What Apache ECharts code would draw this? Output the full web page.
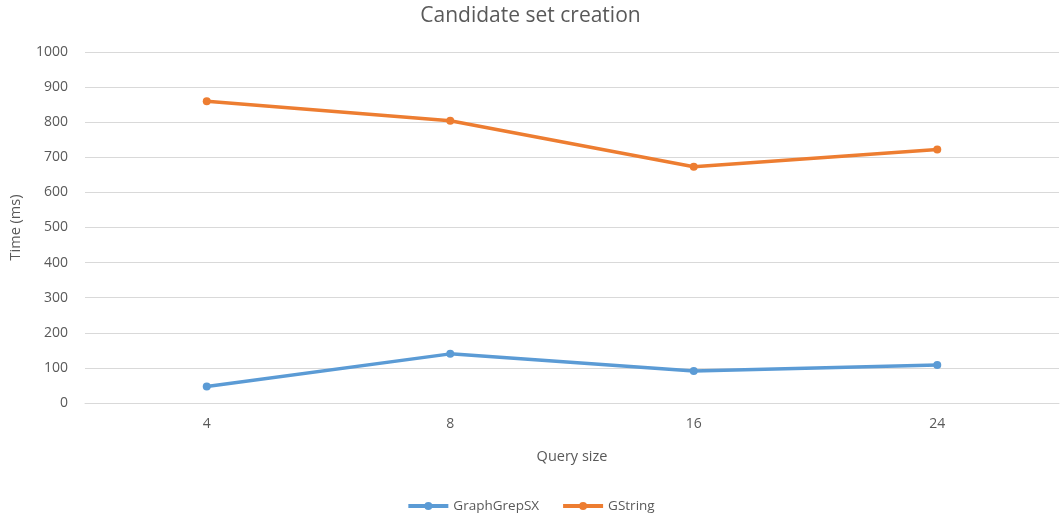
<!DOCTYPE html>
<html>
<head>
<meta charset="utf-8">
<script src="https://cdn.jsdelivr.net/npm/echarts@6/dist/echarts.min.js"></script>
<style>
  html, body { margin: 0; padding: 0; background: #fff; }
  #chart { width: 1061px; height: 515px; }
</style>
</head>
<body>
<div id="chart"></div>
<script>
// Query sizes on the x axis
const querySizes = ['4', '8', '16', '24'];
// Candidate set creation time in milliseconds
const graphGrepSX = [47, 140, 91, 108];
const gString = [860, 804, 673, 722];

const textColor = '#595959';
const fontFamily = '"Open Sans", "Noto Sans", sans-serif';

const chart = echarts.init(document.getElementById('chart'));
chart.setOption({
  animation: false,
  textStyle: { fontFamily: fontFamily },
  title: {
    text: 'Candidate set creation',
    left: 'center',
    top: 1,
    textStyle: { color: textColor, fontSize: 21, fontWeight: 'normal', fontFamily: fontFamily }
  },
  legend: {
    top: 494,
    left: 'center',
    itemWidth: 40,
    itemHeight: 10,
    itemGap: 22,
    lineStyle: { width: 4 },
    textStyle: { color: textColor, fontSize: 13.5, fontFamily: fontFamily },
    data: ['GraphGrepSX', 'GString']
  },
  grid: { left: 85, right: 2, top: 52, bottom: 112, containLabel: false },
  xAxis: {
    type: 'category',
    data: querySizes,
    boundaryGap: true,
    name: 'Query size',
    nameLocation: 'middle',
    nameGap: 46,
    nameTextStyle: { color: textColor, fontSize: 14.5 },
    axisLine: { show: true, lineStyle: { color: '#d9d9d9' } },
    axisTick: { show: false },
    axisLabel: { color: textColor, fontSize: 14, margin: 14 }
  },
  yAxis: {
    type: 'value',
    min: 0,
    max: 1000,
    interval: 100,
    name: 'Time (ms)',
    nameLocation: 'middle',
    nameGap: 62,
    nameTextStyle: { color: textColor, fontSize: 14.5 },
    axisLine: { show: false },
    axisTick: { show: false },
    axisLabel: { color: textColor, fontSize: 14, margin: 17, formatter: (v) => String(v) },
    splitLine: { lineStyle: { color: '#d9d9d9', width: 1 } }
  },
  series: [
    {
      name: 'GraphGrepSX',
      type: 'line',
      data: graphGrepSX,
      symbol: 'circle',
      symbolSize: 8,
      lineStyle: { width: 3.5, color: '#5b9bd5' },
      itemStyle: { color: '#5b9bd5' }
    },
    {
      name: 'GString',
      type: 'line',
      data: gString,
      symbol: 'circle',
      symbolSize: 8,
      lineStyle: { width: 3.5, color: '#ed7d31' },
      itemStyle: { color: '#ed7d31' }
    }
  ]
});
</script>
</body>
</html>
